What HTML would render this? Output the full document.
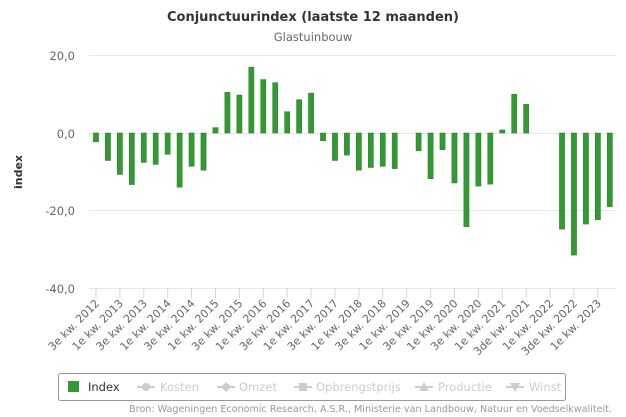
<!DOCTYPE html>
<html><head><meta charset="utf-8"><style>
html,body{margin:0;padding:0;background:#fff;}
svg{display:block;font-family:"DejaVu Sans","Liberation Sans",sans-serif;}
</style></head><body>
<svg id="c" width="626" height="417" viewBox="0 0 626 417" xmlns="http://www.w3.org/2000/svg">
<text x="313" y="21" text-anchor="middle" font-size="13" font-weight="bold" fill="#333">Conjunctuurindex (laatste 12 maanden)</text>
<text x="313" y="41" text-anchor="middle" font-size="11.5" fill="#666">Glastuinbouw</text>
<g stroke="#e6e6e6" stroke-width="1">
<line x1="89" y1="55.5" x2="616" y2="55.5"/>
<line x1="89" y1="133.5" x2="616" y2="133.5"/>
<line x1="89" y1="210.5" x2="616" y2="210.5"/>
<line x1="89" y1="288.5" x2="616" y2="288.5"/>
</g>
<g font-size="11.5" fill="#666" text-anchor="end">
<text x="75" y="60">20,0</text>
<text x="75" y="138">0,0</text>
<text x="75" y="215">-20,0</text>
<text x="75" y="293">-40,0</text>
</g>
<text transform="translate(22,172) rotate(-90)" text-anchor="middle" font-size="11" font-weight="bold" fill="#333">index</text>
<g id="bars" fill="#339933" stroke="#2a7f2a" stroke-width="0.5"></g>
<g id="ticks" stroke="#ccd6eb" stroke-width="1"></g>
<g id="labels" font-size="11" fill="#666"></g>
<rect x="58.5" y="373.5" width="507" height="27" fill="#fff" stroke="#999" rx="2"/>
<rect x="68" y="381" width="11" height="11" fill="#339933"/>
<text x="88" y="391" font-size="11.5" fill="#333">Index</text>
<g fill="#ccc" stroke="#ccc">
<line x1="137" y1="387" x2="155" y2="387" stroke-width="2"/><circle cx="146" cy="387" r="4" stroke="none"/>
<line x1="217" y1="387" x2="235" y2="387" stroke-width="2"/><path d="M226 382 L231 387 L226 392 L221 387Z" stroke="none"/>
<line x1="294" y1="387" x2="312" y2="387" stroke-width="2"/><rect x="299" y="383" width="8" height="8" stroke="none"/>
<line x1="415" y1="387" x2="433" y2="387" stroke-width="2"/><path d="M424 382 L429 391 L419 391Z" stroke="none"/>
<line x1="506" y1="387" x2="524" y2="387" stroke-width="2"/><path d="M510 383 L520 383 L515 392Z" stroke="none"/>
</g>
<g font-size="11.5" fill="#ccc">
<text x="160" y="391">Kosten</text>
<text x="239" y="391">Omzet</text>
<text x="316" y="391">Opbrengstprijs</text>
<text x="438" y="391">Productie</text>
<text x="529" y="391">Winst</text>
</g>
<text x="612" y="412" text-anchor="end" font-size="9.6" fill="#999">Bron: Wageningen Economic Research, A.S.R., Ministerie van Landbouw, Natuur en Voedselkwaliteit.</text>
</svg>
<script>
var v=[-2.3,-7.1,-10.7,-13.3,-7.6,-8.1,-5.5,-14,-8.6,-9.6,1.4,10.5,9.8,17,13.8,13,5.5,8.6,10.3,-2,-7.1,-5.7,-9.6,-8.9,-8.6,-9.2,null,-4.6,-11.8,-4.3,-12.9,-24.2,-13.7,-13.2,0.8,10,7.4,null,null,-24.8,-31.5,-23.5,-22.4,-19];
var ns="http://www.w3.org/2000/svg",b=document.getElementById("bars"),t=document.getElementById("ticks"),l=document.getElementById("labels");
var x0=90,w=11.95,z=133,s=3.875;
v.forEach(function(d,i){if(d===null)return;var cx=x0+w*i+w/2;var r=document.createElementNS(ns,"rect");var h=Math.abs(d)*s;r.setAttribute("x",cx-2.6);r.setAttribute("width",5.2);r.setAttribute("y",d>0?z-h:z);r.setAttribute("height",h);b.appendChild(r);});
var lab=[];for(var i=0;i<22;i++){var q=i%2==0?3:1;var y=2012+Math.floor((i+1)/2);var p=(q==3&&(y==2021||y==2022))?"3de":(q+"e");lab.push(p+" kw. "+y);}
lab.forEach(function(s2,i){var cx=x0+w*(2*i)+w/2;var ln=document.createElementNS(ns,"line");ln.setAttribute("x1",cx);ln.setAttribute("x2",cx);ln.setAttribute("y1",288);ln.setAttribute("y2",298);t.appendChild(ln);var tx=document.createElementNS(ns,"text");tx.setAttribute("text-anchor","end");tx.setAttribute("transform","translate("+(cx+4)+",304) rotate(-45)");tx.textContent=s2;l.appendChild(tx);});
</script>
</body></html>
